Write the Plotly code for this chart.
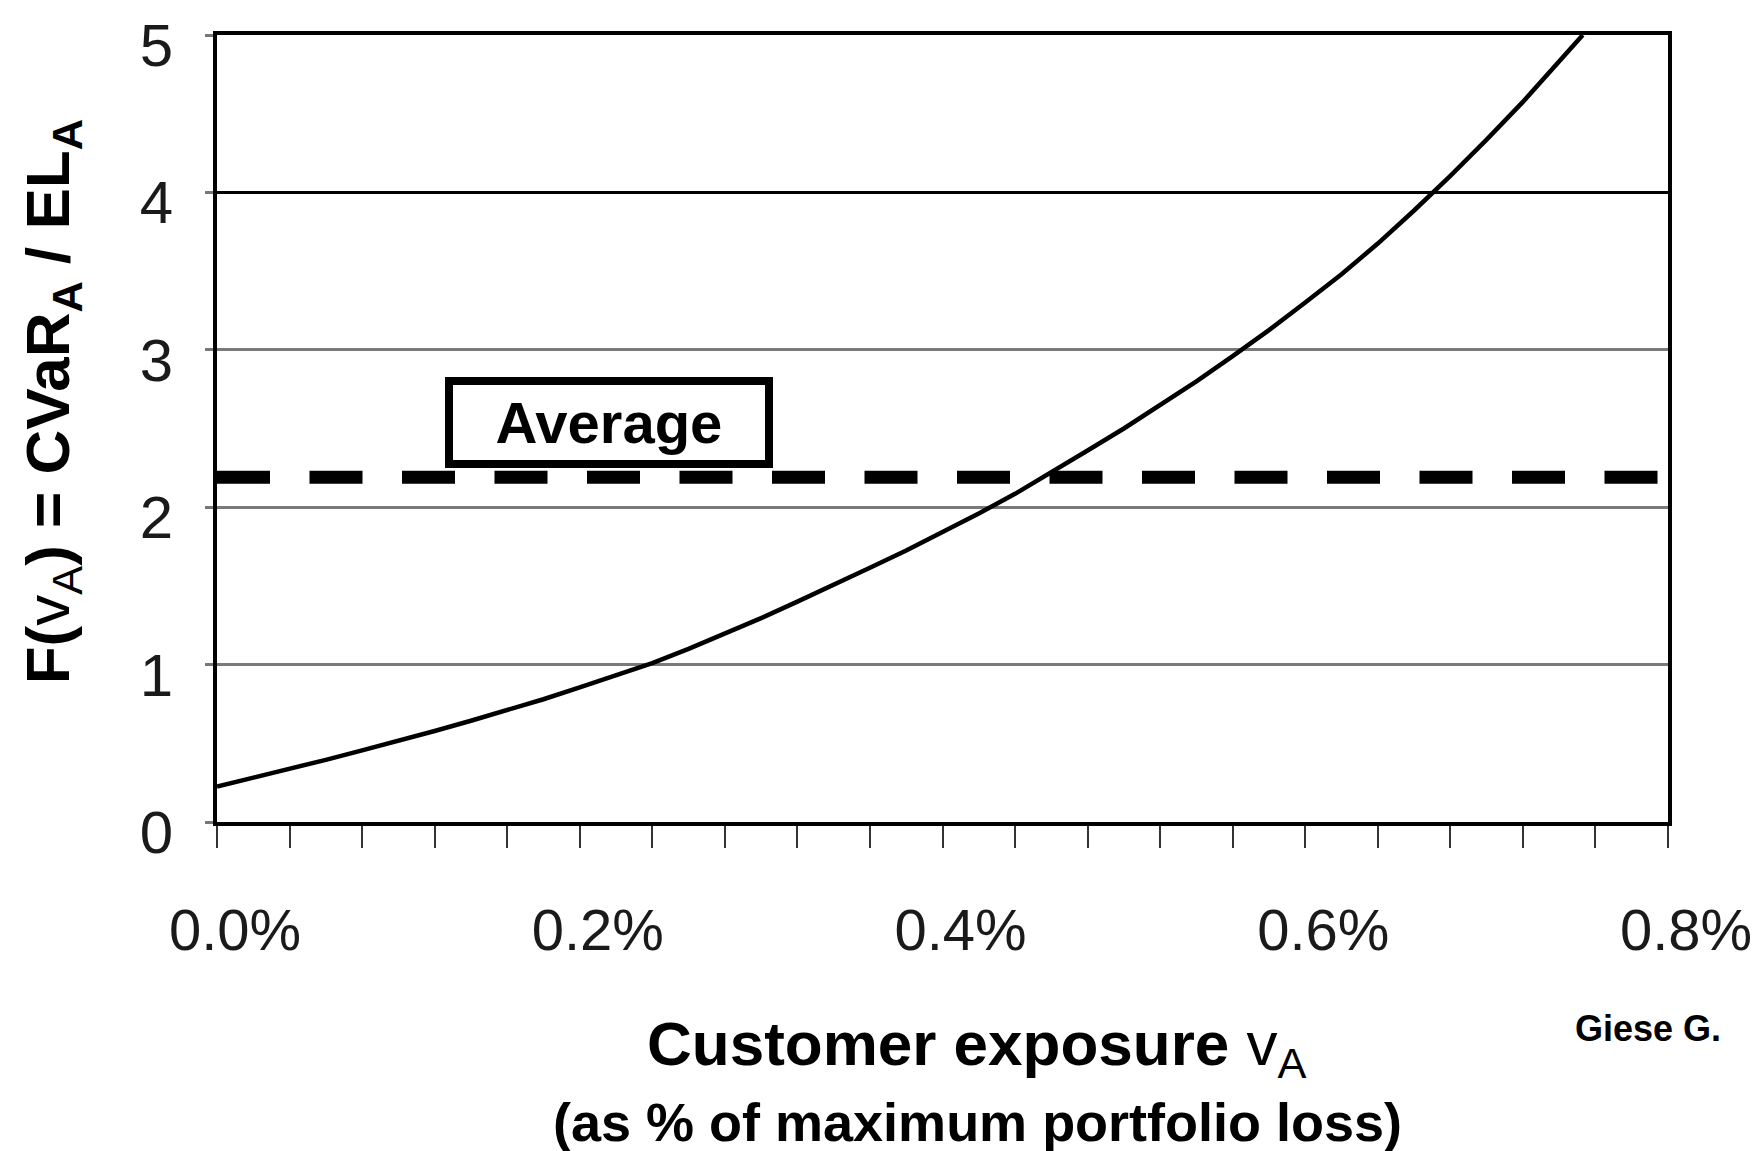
import plotly.graph_objects as go

# Customer exposure (as % of maximum portfolio loss) and F(v_A) = CVaR_A / EL_A
exposure_pct = [0.00, 0.02, 0.04, 0.06, 0.08, 0.10, 0.12, 0.14, 0.16, 0.18,
                0.20, 0.22, 0.24, 0.26, 0.28, 0.30, 0.32, 0.34, 0.36, 0.38,
                0.40, 0.42, 0.44, 0.46, 0.48, 0.50, 0.52, 0.54, 0.56, 0.58,
                0.60, 0.62, 0.64, 0.66, 0.68, 0.70, 0.72, 0.74, 0.753]
ratio_f = [0.225, 0.28, 0.337, 0.395, 0.455, 0.515, 0.578, 0.643, 0.71, 0.78,
           0.855, 0.93, 1.01, 1.10, 1.195, 1.295, 1.40, 1.505, 1.615, 1.725,
           1.84, 1.96, 2.085, 2.22, 2.36, 2.50, 2.65, 2.80, 2.96, 3.125,
           3.30, 3.48, 3.675, 3.885, 4.105, 4.335, 4.575, 4.83, 5.0]

average_level = 2.19
x_ticks = [0.0, 0.2, 0.4, 0.6, 0.8]
x_tick_labels = ["0.0%", "0.2%", "0.4%", "0.6%", "0.8%"]
y_ticks = [0, 1, 2, 3, 4, 5]
dark_gridlines = [4]

FONT = "Liberation Sans, Arial, sans-serif"

fig = go.Figure()

# Average level (dashed)
fig.add_trace(go.Scatter(
    x=[x_ticks[0], x_ticks[-1]], y=[average_level, average_level],
    mode="lines",
    line=dict(color="black", width=13, dash="53px,39.5px"),
    hoverinfo="skip", showlegend=False,
))

# F(v_A) curve
fig.add_trace(go.Scatter(
    x=exposure_pct, y=ratio_f, mode="lines",
    line=dict(color="black", width=4.5),
    showlegend=False, cliponaxis=True,
))

# Black gridline at 4
for lvl in dark_gridlines:
    fig.add_shape(type="line", xref="paper", x0=0, x1=1, yref="y", y0=lvl, y1=lvl,
                  line=dict(color="black", width=3), layer="above")

fig.add_annotation(
    x=0.2161, y=2.54, xref="x", yref="y",
    text="<b>Average</b>", showarrow=False,
    font=dict(family=FONT, size=58, color="black"),
    width=312, height=75, borderpad=0,
    bordercolor="black", borderwidth=8, bgcolor="white",
    xanchor="center", yanchor="middle",
)

# Axis titles
fig.add_annotation(
    x=0.524, y=-0.287, xref="paper", yref="paper",
    text="<b>Customer exposure </b>v<sub>A</sub>", showarrow=False,
    font=dict(family=FONT, size=62, color="black"),
    xanchor="center", yanchor="middle",
)
fig.add_annotation(
    x=0.524, y=-0.381, xref="paper", yref="paper",
    text="<b>(as % of maximum portfolio loss)</b>", showarrow=False,
    font=dict(family=FONT, size=54, color="black"),
    xanchor="center", yanchor="middle",
)
fig.add_annotation(
    x=-0.114, y=0.534, xref="paper", yref="paper",
    text="<b>F(</b>v<sub>A</sub><b>) = CVaR<sub>A</sub> / EL<sub>A</sub></b>",
    showarrow=False, textangle=-90,
    font=dict(family=FONT, size=62, color="black"),
    xanchor="center", yanchor="middle",
)
fig.add_annotation(
    x=0.986, y=-0.262, xref="paper", yref="paper",
    text="<b>Giese G.</b>", showarrow=False,
    font=dict(family=FONT, size=36, color="black"),
    xanchor="center", yanchor="middle",
)

fig.update_xaxes(
    range=[x_ticks[0], x_ticks[-1]],
    tickvals=x_ticks, ticktext=x_tick_labels,
    ticks="outside", ticklen=22, tickwidth=2, tickcolor="#333",
    minor=dict(dtick=0.04, tick0=0, ticks="outside", ticklen=22, tickwidth=2, tickcolor="#333"),
    showline=True, linecolor="black", linewidth=4, mirror=True,
    showgrid=False, zeroline=False,
    tickfont=dict(family=FONT, size=58, color="#1a1a1a"),
    ticklabelstandoff=32, ticklabelshift=18,
)
fig.update_yaxes(
    range=[0, 5], tickvals=y_ticks,
    ticks="outside", ticklen=8, tickwidth=3, tickcolor="#777",
    showline=True, linecolor="black", linewidth=4, mirror=True,
    showgrid=True, gridcolor="#7a7a7a", gridwidth=3, zeroline=False,
    tickfont=dict(family=FONT, size=60, color="#1a1a1a"),
    ticklabelstandoff=20, ticklabelshift=10, ticklabeloverflow="allow",
)

fig.update_layout(
    width=1764, height=1151,
    margin=dict(l=217, r=92, t=35, b=329),
    plot_bgcolor="white", paper_bgcolor="white",
    showlegend=False,
)

fig.write_html("out.html")
